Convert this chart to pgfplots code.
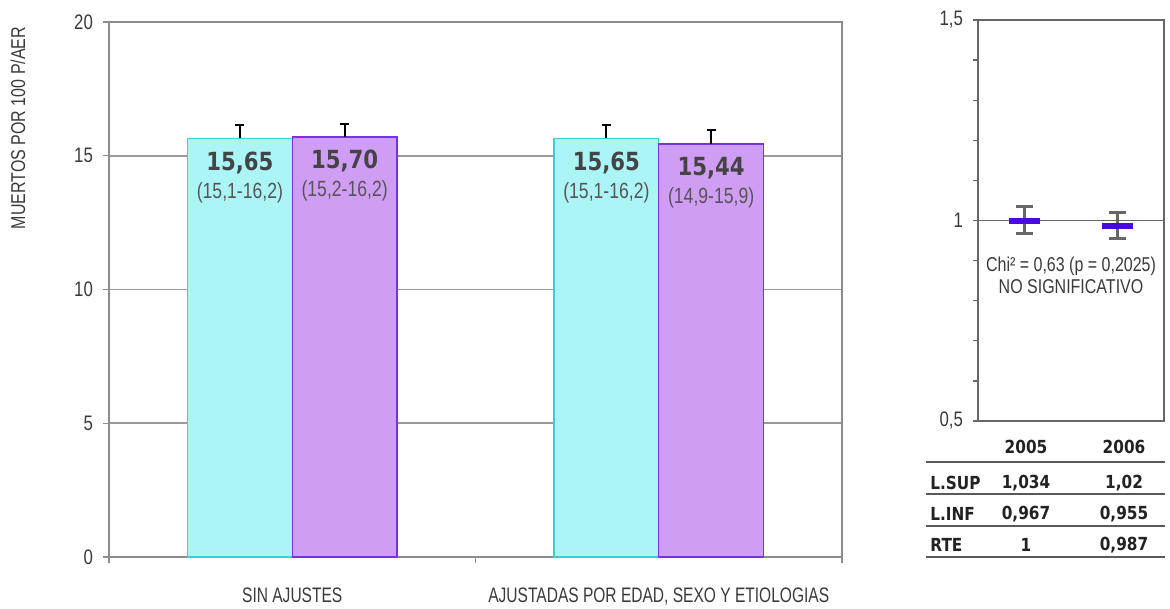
\documentclass[border=0pt]{standalone}
\usepackage{fontspec}
\setmainfont[FakeStretch=0.8]{Liberation Sans}
\newfontfamily\condf[FakeStretch=0.74]{Liberation Sans}
\newfontfamily\dvs[FakeStretch=0.85]{DejaVu Sans}
\usepackage{pgfplots}
\pgfplotsset{compat=1.18}
\usepackage{pgfplotstable}

\definecolor{cyanfill}{HTML}{ACF5F7}
\definecolor{cyanedge}{HTML}{3CCFCF}
\definecolor{purpfill}{HTML}{D09DF5}
\definecolor{purpedge}{HTML}{7733DD}
\definecolor{markc}{HTML}{4A0ADD}
\definecolor{numgray}{HTML}{444444}
\definecolor{cigray}{HTML}{555555}
\definecolor{txtgray}{HTML}{3A3A3A}
\definecolor{errgray}{HTML}{666666}
\definecolor{tabk}{HTML}{222222}

\newcommand\barlab[2]{{\dvs\bfseries\fontsize{12.5}{14}\selectfont\color{numgray}#1}\\[2pt]{\fontsize{11}{12}\selectfont\color{cigray}(#2)}}

\pgfplotstableread{
x y e lab
0 15.65 0.51 \barlab{15,65}{15,1-16,2}
1 15.65 0.50 \barlab{15,65}{15,1-16,2}
}\tcyan
\pgfplotstableread{
x y e lab
0 15.70 0.50 \barlab{15,70}{15,2-16,2}
1 15.44 0.52 \barlab{15,44}{14,9-15,9}
}\tpurp
\pgfplotstableread{
x y ep em
1 1.000 0.034 0.033
2 0.987 0.033 0.032
}\trr

\begin{document}
\begin{tikzpicture}
\useasboundingbox (0,0) rectangle (585pt,-304.5pt);

% ---------------- left bar chart ----------------
\begin{axis}[
  at={(54.5pt,-278.5pt)}, anchor=south west,
  scale only axis, width=366.5pt, height=267.5pt,
  xmin=-0.5, xmax=1.5, ymin=0, ymax=20,
  ybar=0pt, bar width=0.2858,
  /pgf/number format/assume math mode=true,
  xtick={-0.5,0.5,1.5}, xticklabels={},
  extra x ticks={0,1},
  extra x tick labels={SIN AJUSTES, {AJUSTADAS POR EDAD, SEXO Y ETIOLOGIAS}},
  extra x tick style={major tick length=0pt, xticklabel style={yshift=-12pt}},
  xticklabel style={font=\condf\fontsize{10.5}{12}\selectfont, text=txtgray},
  ytick={0,5,10,15,20},
  yticklabel style={font=\fontsize{10.5}{12}\selectfont, text=txtgray, xshift=-1.5pt},
  ymajorgrids, grid style={black!40, line width=0.8pt},
  xtick pos=bottom, ytick pos=left, tick align=outside,
  major tick length=3pt,
  x tick style={black!45, line width=0.6pt},
  y tick style={black!45, line width=0.6pt},
  axis line style={draw=black!45, line width=0.6pt},
  point meta=explicit symbolic,
  nodes near coords={\pgfplotspointmeta},
  every node near coord/.append style={anchor=north, align=center, yshift=-3pt},
  clip=false,
]
\addplot[fill=cyanfill, draw=cyanedge, line width=0.6pt,
  error bars/.cd, y dir=plus, y explicit,
  error bar style={black, line width=1pt},
  error mark options={rotate=90, black, mark size=2.25pt, line width=1pt}]
  table[x=x, y=y, y error plus=e, meta=lab]{\tcyan};
\addplot[fill=purpfill, draw=purpedge, line width=0.6pt,
  error bars/.cd, y dir=plus, y explicit,
  error bar style={black, line width=1pt},
  error mark options={rotate=90, black, mark size=2.25pt, line width=1pt}]
  table[x=x, y=y, y error plus=e, meta=lab]{\tpurp};
\end{axis}

\node[rotate=90, font=\fontsize{10}{12}\selectfont, text=txtgray] at (9pt,-64pt) {MUERTOS POR 100 P/AER};

% ---------------- right ratio chart ----------------
\begin{axis}[
  at={(489pt,-210.5pt)}, anchor=south west,
  scale only axis, width=93pt, height=200.5pt,
  xmin=0.5, xmax=2.5, ymin=0.5, ymax=1.5,
  xtick=\empty,
  ytick={0.5,1,1.5}, minor y tick num=4,
  ytick pos=left, tick align=outside,
  major tick length=2.5pt, minor tick length=2.5pt,
  /pgf/number format/assume math mode=true,
  /pgf/number format/use comma,
  yticklabel style={font=\fontsize{10.5}{12}\selectfont, text=txtgray, xshift=-1.5pt},
  y tick style={black!60, line width=0.6pt},
  axis line style={draw=black!60, line width=0.6pt},
  clip=false,
]
\addplot[black!60, line width=0.6pt] coordinates {(0.5,1) (2.5,1)};
\addplot[only marks, mark=-, mark size=7.75pt,
  mark options={draw=markc, line width=3pt},
  error bars/.cd, y dir=both, y explicit,
  error bar style={line width=1.5pt, errgray},
  error mark options={rotate=90, mark size=4.25pt, line width=1.5pt, errgray}]
  table[x=x, y=y, y error plus=ep, y error minus=em]{\trr};
\node[align=center, font=\fontsize{10}{11}\selectfont, text=txtgray] at (axis cs:1.5,0.864)
  {Chi² = 0,63 (p = 0,2025)\\NO SIGNIFICATIVO};
\end{axis}

% ---------------- table ----------------
\begin{scope}[every node/.style={font=\dvs\bfseries\fontsize{9}{10}\selectfont, text=tabk}]
\node at (513pt,-223.5pt) {2005};
\node at (562pt,-223.5pt) {2006};
\node[anchor=west, inner sep=0pt] at (465pt,-241.5pt) {L.SUP};
\node at (513pt,-241.5pt) {1,034};
\node at (562pt,-241.5pt) {1,02};
\node[anchor=west, inner sep=0pt] at (465pt,-257pt) {L.INF};
\node at (513pt,-257pt) {0,967};
\node at (562pt,-257pt) {0,955};
\node[anchor=west, inner sep=0pt] at (465pt,-272.5pt) {RTE};
\node at (513pt,-272.5pt) {1};
\node at (562pt,-272.5pt) {0,987};
\end{scope}
\foreach \yy in {-231,-247,-263,-278.5}{
  \draw[black!65, line width=1pt] (463pt,\yy pt) -- (582.5pt,\yy pt);
}
\end{tikzpicture}
\end{document}
